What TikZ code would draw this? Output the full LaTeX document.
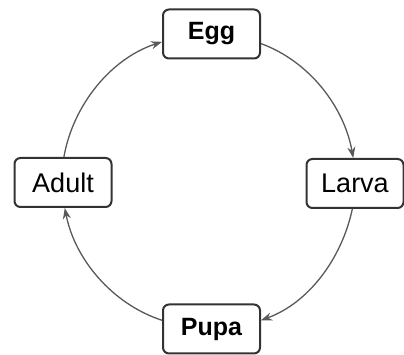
\documentclass[tikz,border=0pt]{standalone}
\usepackage{fontspec}
\setmainfont{Liberation Sans}
\usetikzlibrary{arrows.meta}
\begin{document}
\begin{tikzpicture}[x=1pt,y=1pt,
  box/.style={draw=black!80, line width=2pt, rounded corners=6pt,
    minimum width=97pt, minimum height=49pt, inner sep=0pt, fill=white,
    font=\fontsize{27}{27}\selectfont},
  boldbox/.style={box, font=\fontsize{25}{25}\selectfont\bfseries},
  arr/.style={draw=black!65, line width=1.3pt, looseness=0.9,
    -{Stealth[length=11pt,width=8pt]}}]
\useasboundingbox (0,0) rectangle (404,355);
\node[boldbox] (egg) at (211.5,321) {Egg};
\node[box] (larva) at (355,171.5) {Larva};
\node[boldbox] (pupa) at (211.5,26) {Pupa};
\node[box] (adult) at (63,172.5) {Adult};
\draw[arr] (egg.-11) to[out=-20,in=100] (larva.94);
\draw[arr] (larva.-96) to[out=-102,in=20] (pupa.10);
\draw[arr] (pupa.170) to[out=162,in=-79] (adult.-86);
\draw[arr] (adult.88) to[out=80,in=198] (egg.189);
\end{tikzpicture}
\end{document}
